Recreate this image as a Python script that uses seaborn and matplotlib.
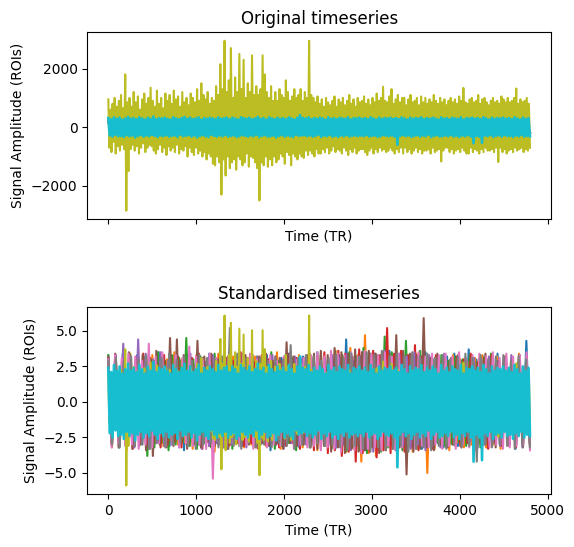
import numpy as np
import pandas as pd
import matplotlib
matplotlib.use("Agg")
import matplotlib.pyplot as plt
import seaborn as sns

N_TR = 4800

# ROI names in drawing order (tab10 colours)
roi_names = ["ROI 1", "ROI 2", "ROI 3", "ROI 4", "ROI 5",
             "ROI 6", "ROI 7", "ROI 8", "ROI 9", "ROI 10"]

# standard deviation of each ROI in original units (ratio of the two panels)
roi_sd = [60, 60, 60, 60, 60, 60, 60, 60, 485, 130]

# ROI 9 (olive) in original units, peak / trough pairs
olive_raw = [
    950, -700, 600, -850, 800, -500, 1000, -900, 700, -650, 900, -800, 1100, -600, 650, -750, 1800, -2850, 850, -1500,
    1000, -750, 700, -600, 1200, -800, 850, -650, 1050, -900, 600, -700, 950, -550, 1150, -850, 800, -700, 1000, -600,
    1350, -650, 900, -800, 700, -900, 1250, -750, 800, -600, 1000, -850, 650, -700, 1150, -950, 900, -650, 1100, -800,
    800, -700, 1250, -850, 950, -600, 1050, -900, 700, -750, 1200, -800, 850, -650, 1000, -1000, 750, -700, 1150, -850,
    1000, -950, 850, -700, 1300, -900, 900, -800, 1500, -1000, 1100, -850, 950, -1100, 1200, -900, 800, -1000, 1000, -1250,
    900, -1300, 1400, -1000, 1100, -1200, 2150, -2300, 1300, -1100, 2950, -1650, 1200, -1000, 1600, -1400, 2700, -1200, 1000, -1100,
    1700, -1450, 1200, -1000, 2500, -1100, 1300, -1300, 2300, -1200, 1000, -900, 1500, -1350, 1200, -1000, 2450, -1050, 1100, -1200,
    1400, -1400, 1100, -2500, 1300, -1200, 2450, -1300, 1800, -1000, 1200, -1350, 1000, -1100, 1400, -1300, 900, -1000, 1200, -1200,
    900, -1100, 1300, -900, 1100, -1000, 1000, -1250, 1600, -850, 1200, -950, 900, -1300, 1050, -900, 1300, -1000, 1000, -1100,
    1100, -900, 1300, -1000, 900, -1050, 1200, -800, 1000, -950, 2950, -800, 1100, -900, 1000, -1000, 850, -750, 1050, -900,
    800, -900, 950, -750, 700, -850, 1000, -700, 850, -900, 750, -800, 900, -650, 1050, -850, 700, -750, 950, -800,
    850, -900, 1000, -700, 750, -800, 900, -950, 1100, -750, 800, -850, 950, -700, 700, -900, 1000, -800, 850, -750,
    900, -750, 1050, -850, 800, -950, 950, -800, 750, -700, 1000, -900, 850, -750, 1150, -850, 900, -700, 1000, -800,
    1380, -750, 900, -850, 850, -800, 1050, -700, 1300, -800, 800, -900, 950, -750, 1100, -850, 850, -700, 1000, -900,
    1000, -700, 750, -850, 950, -750, 1100, -900, 850, -800, 900, -700, 1000, -850, 750, -750, 1050, -900, 850, -800,
    1000, -800, 800, -750, 950, -900, 850, -700, 1100, -850, 900, -800, 800, -750, 1000, -1170, 850, -800, 950, -700,
    750, -700, 900, -850, 1000, -750, 850, -900, 950, -800, 800, -750, 1050, -850, 900, -700, 1340, -800, 850, -900,
    800, -900, 950, -700, 1000, -850, 850, -750, 900, -800, 1100, -900, 800, -750, 950, -850, 1000, -700, 850, -800,
    750, -800, 900, -750, 1000, -850, 850, -700, 900, -1190, 800, -700, 1050, -850, 950, -750, 850, -900, 1000, -800,
    850, -750, 900, -850, 1000, -700, 1320, -800, 800, -750, 950, -700, 850, -850, 900, -750, 1000, -800, 800, -700,
]

# ROI 10 (cyan), standardised values
cyan_z = [
    2.4, -2.2, 2.1, -2.5, 2.6, -2.0, 2.2, -2.4, 2.5, -2.3, 2.0, -2.6, 2.3, -2.1, 2.7, -2.4, 2.2, -2.2, 2.4, -2.7,
    2.1, -2.3, 2.6, -2.1, 2.3, -2.5, 2.0, -2.2, 2.5, -2.4, 2.2, -2.0, 2.8, -2.3, 2.1, -2.6, 2.4, -2.2, 2.3, -2.4,
    2.5, -2.1, 2.2, -2.5, 2.0, -2.3, 2.6, -2.2, 2.3, -2.6, 2.1, -2.0, 2.4, -2.4, 2.7, -2.3, 2.2, -2.1, 2.5, -2.5,
    2.1, -2.2, 2.3, -2.7, 2.6, -2.3, 2.0, -2.1, 2.4, -2.4, 2.2, -2.6, 2.5, -2.0, 2.3, -2.3, 2.1, -2.5, 2.6, -2.2,
    2.2, -2.4, 2.4, -2.1, 2.5, -2.5, 2.1, -2.3, 2.5, -2.2, 2.3, -2.6, 2.0, -2.4, 2.6, -2.1, 2.4, -2.3, 2.2, -2.5,
    2.5, -2.2, 2.1, -2.4, 2.3, -2.0, 2.7, -2.6, 2.2, -2.3, 2.4, -2.1, 2.0, -2.5, 2.6, -2.4, 2.3, -2.2, 2.1, -2.7,
    2.5, -2.3, 2.2, -2.1, 2.4, -2.5, 2.1, -2.2, 2.6, -2.4, 2.3, -2.6, 2.0, -2.0, 2.5, -2.3, 3.2, -2.2, 2.4, -2.1,
    2.3, -2.4, 2.6, -2.2, 2.1, -2.5, 2.4, -2.3, 2.2, -2.0, 2.5, -2.6, 2.3, -2.2, 2.0, -2.4, 2.6, -2.1, 2.2, -2.5,
    2.4, -2.3, 2.1, -2.6, 2.5, -2.2, 2.3, -2.4, 2.2, -2.1, 2.6, -2.5, 2.0, -2.3, 2.4, -2.2, 2.3, -2.4, 2.5, -2.2,
    2.2, -2.4, 2.4, -2.1, 2.1, -2.5, 2.6, -2.3, 2.3, -2.2, 2.0, -2.6, 2.5, -2.4, 2.2, -2.1, 2.4, -2.3, 2.3, -2.4,
    2.5, -2.2, 2.2, -2.5, 2.4, -4.6, 2.1, -2.3, 2.6, -2.1, 2.3, -2.4, 2.0, -2.2, 2.5, -2.6, 2.2, -2.3, 2.4, -2.1,
    2.3, -2.5, 2.6, -2.2, 2.1, -2.4, 2.4, -2.0, 2.2, -2.6, 2.5, -2.3, 2.3, -2.1, 2.0, -2.5, 2.6, -2.4, 2.2, -2.2,
    2.4, -2.4, 2.1, -2.1, 2.5, -2.5, 2.3, -2.3, 2.2, -2.6, 2.6, -2.2, 2.0, -2.4, 2.4, -2.1, 2.3, -2.5, 2.5, -4.2,
    2.2, -2.3, 2.4, -2.5, 2.1, -4.1, 2.6, -2.2, 2.3, -2.4, 2.0, -2.1, 2.5, -2.6, 2.2, -2.3, 2.4, -2.2, 2.3, -2.5,
    2.5, -2.1, 2.2, -2.4, 2.4, -2.3, 2.1, -2.6, 2.6, -2.2, 2.3, -2.4, 2.0, -2.1, 2.5, -2.5, 2.2, -2.3, 2.4, -2.4,
]

# ROIs 1-8, standardised values (peaks beyond the cyan band)
blue_z = [
    3.1, -2.8, 2.6, -3.2, 3.4, -2.7, 2.9, -3.0, 3.3, -2.6, 2.7, -3.3, 3.0, -2.9, 3.5, -2.8, 2.8, -3.1, 3.2, -2.7,
    2.9, -3.4, 3.3, -2.8, 2.6, -3.0, 3.1, -2.7, 3.4, -3.2, 2.8, -2.9, 3.0, -3.3, 3.6, -2.6, 2.7, -3.0, 3.2, -2.8,
    3.0, -3.1, 2.8, -2.7, 3.3, -3.4, 2.7, -2.9, 3.1, -3.0, 3.4, -2.8, 2.9, -3.2, 3.2, -2.6, 2.6, -3.1, 3.5, -2.9,
    2.8, -3.0, 3.1, -3.3, 3.3, -2.7, 4.4, -3.1, 2.9, -2.9, 3.2, -3.4, 2.7, -3.0, 3.4, -2.8, 3.0, -3.2, 3.6, -3.0,
    3.1, -2.9, 2.9, -3.1, 3.3, -2.7, 2.8, -3.3, 3.5, -3.0, 3.0, -2.8, 2.7, -3.2, 3.2, -2.9, 3.4, -3.1, 2.9, -2.7,
    3.7, -3.0, 3.0, -2.8, 3.2, -3.2, 2.8, -2.9, 3.4, -3.1, 3.1, -2.7, 2.9, -3.3, 3.3, -3.0, 4.3, -2.8,
]
orange_z = [
    2.8, -3.2, 3.2, -2.7, 2.9, -3.4, 3.4, -3.0, 2.7, -2.8, 3.1, -3.3, 3.3, -2.9, 2.6, -3.1, 3.0, -2.7, 3.5, -3.0,
    3.0, -2.9, 2.7, -3.3, 3.3, -3.0, 3.1, -2.8, 2.9, -3.5, 3.4, -2.9, 2.8, -3.1, 3.2, -2.7, 3.0, -3.2, 2.7, -3.0,
    3.2, -2.8, 3.0, -3.1, 2.8, -2.9, 3.5, -3.3, 3.1, -2.7, 2.9, -3.0, 3.3, -3.2, 2.7, -2.9, 3.1, -3.4, 3.4, -3.1,
    3.0, -3.2, 3.6, -3.0, 3.2, -3.5, 3.8, -3.3, 3.3, -4.2, 4.7, -3.6, 3.4, -3.8, 3.2, -3.4, 3.5, -3.1, 3.0, -3.6,
    3.3, -3.2, 3.1, -3.5, 3.4, -3.0, 3.6, -5.0, 3.0, -3.3, 3.2, -3.1, 2.9, -3.4, 3.3, -2.9, 3.0, -3.2, 2.8, -3.0,
    3.1, -2.9, 3.3, -3.2, 2.7, -3.0, 3.2, -3.3, 3.0, -2.8, 2.9, -3.1, 3.4, -3.0, 3.1, -2.9,
]
green_z = [
    3.3, -2.9, 2.9, -3.2, 3.1, -2.8, 3.4, -3.1, 2.8, -3.0, 3.2, -3.8, 3.0, -3.2, 3.5, -2.9, 2.9, -3.4, 3.3, -3.0,
    3.1, -2.8, 4.5, -3.1, 3.0, -3.3, 3.2, -2.9, 2.8, -3.2, 3.4, -3.0, 3.0, -2.8, 2.9, -3.3, 3.3, -3.1, 3.1, -2.9,
    2.8, -3.2, 3.2, -3.0, 3.0, -2.8, 3.5, -3.3, 2.9, -3.1, 3.3, -2.9, 3.1, -3.4, 2.8, -3.0, 3.2, -3.2, 3.0, -2.8,
    3.4, -3.1, 3.1, -3.3, 3.6, -3.0, 3.3, -3.5, 3.5, -3.2, 3.2, -3.4, 3.8, -3.6, 3.4, -3.1, 3.3, -3.5, 4.6, -3.2,
    3.5, -3.0, 3.3, -3.4, 4.3, -3.1, 3.2, -3.3, 3.6, -3.0, 3.1, -3.2, 3.0, -2.9, 3.3, -3.1, 2.9, -3.0, 3.2, -2.8,
    3.0, -3.1, 3.3, -2.9, 2.8, -3.2, 3.1, -3.0, 3.4, -2.8, 2.9, -3.1, 3.2, -3.0, 3.0, -2.9, 3.3, -3.2, 3.1, -3.0,
]
red_z = [
    3.0, -3.1, 3.3, -2.8, 2.8, -3.0, 3.2, -3.3, 2.9, -2.9, 3.4, -3.1, 3.1, -2.7, 2.7, -3.2, 3.3, -3.0, 3.0, -2.8,
    3.2, -3.2, 2.9, -3.0, 3.1, -2.9, 3.4, -3.3, 2.8, -3.1, 3.0, -2.8, 3.3, -3.2, 3.1, -3.0, 2.9, -2.9, 3.5, -3.1,
    3.1, -2.9, 2.8, -3.3, 3.3, -3.0, 3.0, -2.8, 3.2, -3.2, 2.9, -3.1, 3.4, -2.9, 3.1, -3.3, 3.0, -3.0, 3.3, -3.4,
    3.2, -3.3, 3.5, -3.6, 3.3, -3.4, 3.6, -3.8, 3.4, -3.5, 3.2, -4.2, 3.7, -3.6, 3.4, -3.5, 3.6, -3.9, 3.3, -3.4,
    5.2, -3.6, 3.4, -3.3, 3.6, -3.5, 3.3, -3.2, 4.0, -3.4, 3.2, -3.1, 3.0, -3.3, 3.3, -2.9, 3.1, -3.2, 2.9, -3.0,
    3.2, -3.1, 3.0, -2.9, 3.4, -3.2, 2.8, -3.0, 3.1, -3.3, 3.3, -2.8, 2.9, -3.1, 3.2, -3.0, 3.0, -3.2, 3.1, -2.9,
    3.2, -3.0,
]
purple_z = [
    3.1, -2.9, 3.3, -3.1, 4.1, -2.8, 3.2, -3.2, 4.4, -3.0, 3.4, -3.3, 3.0, -2.9, 3.5, -3.1, 2.9, -3.0, 3.3, -3.2,
    3.0, -3.0, 3.4, -2.8, 3.1, -3.3, 2.8, -3.1, 3.3, -2.9, 3.0, -3.2, 3.2, -3.0, 2.9, -2.8, 3.4, -3.2, 3.1, -3.0,
    3.2, -2.9, 2.9, -3.1, 3.3, -3.0, 3.0, -3.3, 2.8, -2.9, 3.2, -3.1, 3.1, -3.0, 3.4, -2.8, 2.9, -3.2, 3.0, -3.0,
    3.3, -3.2, 3.1, -3.0, 3.4, -3.4, 3.2, -3.1, 3.5, -3.3, 3.3, -3.5, 3.2, -3.2, 3.6, -3.0, 3.1, -3.4, 3.4, -3.1,
    3.2, -3.3, 3.5, -3.0, 3.0, -3.4, 3.3, -3.1, 3.1, -3.2, 3.4, -2.9, 3.0, -3.1, 3.2, -3.0, 2.9, -2.8, 3.1, -3.2,
    3.0, -3.0, 3.2, -2.9, 2.9, -3.1, 3.1, -3.0, 3.3, -2.8, 2.8, -3.2, 3.2, -3.0,
]
brown_z = [
    3.2, -3.0, 3.4, -3.2, 3.0, -2.9, 3.5, -3.3, 3.1, -3.1, 3.3, -3.4, 3.0, -3.8, 3.6, -3.0, 3.2, -3.2, 4.5, -3.1,
    4.4, -2.9, 3.3, -3.3, 3.1, -3.0, 4.3, -3.2, 3.2, -2.8, 3.4, -3.1, 3.0, -3.0, 3.3, -3.3, 2.9, -2.9, 3.1, -3.1,
    3.3, -3.0, 3.0, -3.2, 3.2, -2.9, 3.4, -3.1, 2.9, -3.0, 3.1, -3.3, 4.2, -2.9, 3.2, -3.1, 3.0, -3.0, 3.3, -3.2,
    3.4, -3.3, 3.6, -3.1, 3.3, -3.5, 3.8, -3.2, 3.5, -3.6, 3.4, -3.3, 3.7, -3.5, 3.5, -3.4, 3.6, -3.2, 3.4, -3.6,
    3.5, -3.4, 3.4, -3.3, 4.7, -3.2, 3.6, -5.1, 3.4, -3.5, 3.3, -3.3, 5.9, -3.2, 3.1, -3.4, 3.4, -3.0, 3.0, -3.2,
    3.1, -3.0, 3.3, -3.2, 2.9, -2.9, 3.2, -3.1, 3.0, -3.0, 3.4, -2.8, 3.1, -3.2, 2.9, -3.0, 3.2, -3.1, 3.0, -2.9,
    3.3, -3.1, 3.0, -3.0,
]
pink_z = [
    3.0, -3.2, 3.3, -2.9, 3.1, -3.1, 3.4, -3.0, 3.2, -3.3, 2.9, -3.0, 4.1, -3.2, 3.2, -2.9, 3.5, -3.1, 3.0, -3.0,
    3.3, -3.2, 3.1, -2.9, 3.9, -3.1, 3.2, -3.0, 3.0, -3.3, 3.4, -5.4, 3.1, -3.0, 2.9, -3.2, 3.3, -2.9, 3.0, -3.1,
    3.2, -3.0, 3.4, -3.3, 3.0, -2.9, 3.1, -3.2, 3.3, -3.0, 2.9, -3.1, 3.2, -2.8, 3.5, -3.3, 3.0, -3.0, 3.1, -3.2,
    3.3, -3.1, 3.5, -3.4, 3.2, -3.2, 3.6, -3.3, 3.4, -3.5, 3.3, -3.2, 3.5, -3.4, 3.2, -3.6, 3.6, -3.3, 3.4, -3.2,
    3.3, -3.4, 3.5, -3.1, 3.2, -3.3, 3.4, -3.2, 3.1, -3.0, 3.3, -3.3, 3.5, -3.1, 3.2, -3.2, 3.4, -3.0, 3.3, -3.3,
    3.4, -3.1, 3.2, -3.3, 3.5, -3.0, 3.1, -3.2, 3.3, -3.4, 3.4, -3.1, 3.2, -3.2, 3.5, -3.0, 3.1, -3.3, 3.4, -3.2,
    3.2, -3.1, 3.3, -3.0, 3.5, -3.4,
]
gray_z = [
    2.9, -3.0, 3.1, -3.2, 2.8, -2.9, 3.2, -3.1, 3.0, -3.0, 3.3, -3.3, 2.9, -2.8, 3.1, -3.2, 3.4, -3.0, 3.0, -2.9,
    3.2, -3.1, 2.9, -3.3, 3.3, -3.0, 3.1, -2.9, 3.0, -3.2, 3.2, -3.0, 5.2, -3.1, 3.4, -3.3, 3.0, -2.9, 3.3, -3.2,
    3.1, -3.0, 2.9, -3.2, 3.2, -2.9, 3.0, -3.1, 4.0, -3.3, 3.1, -3.0, 3.3, -3.2, 3.2, -2.9, 2.9, -3.1, 3.1, -3.0,
    3.3, -3.2, 3.1, -3.4, 3.4, -3.1, 3.2, -3.3, 3.5, -3.5, 3.3, -3.2, 3.6, -3.4, 3.2, -3.3, 3.4, -3.1, 3.3, -3.5,
    3.5, -3.3, 3.2, -3.2, 3.4, -3.4, 3.1, -3.1, 3.3, -3.3, 3.0, -3.0, 3.2, -3.2, 3.4, -3.1, 3.1, -4.2, 3.3, -3.0,
    3.0, -3.2, 3.2, -3.0, 3.3, -3.1, 2.9, -3.3, 3.2, -3.0, 3.0, -3.2,
]

tick_top = [-2000, 0, 2000]
tick_bottom = [-5.0, -2.5, 0.0, 2.5, 5.0]
tick_x = [0, 1000, 2000, 3000, 4000, 5000]

# build the original and standardised series for each ROI
z_lists = [blue_z, orange_z, green_z, red_z, purple_z, brown_z, pink_z, gray_z, None, cyan_z]
frames = []
for i, name in enumerate(roi_names):
    if z_lists[i] is None:
        raw = np.array(olive_raw, dtype=float)
        z = raw / roi_sd[i]
    else:
        z = np.array(z_lists[i], dtype=float)
        raw = z * roi_sd[i]
    tr = np.linspace(0, N_TR - 1, len(z))
    frames.append(pd.DataFrame({"TR": tr, "original": raw, "standardised": z, "roi": name}))
df = pd.concat(frames, ignore_index=True)

palette = sns.color_palette("tab10", len(roi_names))

fig, axes = plt.subplots(2, 1, figsize=(5.74, 5.47), dpi=100, sharex=True)
fig.subplots_adjust(left=0.152, right=0.96, top=0.941, bottom=0.097, hspace=0.47)

for ax, col, title in zip(axes, ["original", "standardised"],
                          ["Original timeseries", "Standardised timeseries"]):
    for i, name in enumerate(roi_names):
        sub = df[df["roi"] == name]
        sns.lineplot(data=sub, x="TR", y=col, color=palette[i], ax=ax,
                     linewidth=1.9 if i == 9 else 1.5, estimator=None, sort=False)
    ax.set_title(title)
    ax.set_xlabel("Time (TR)")
    ax.set_ylabel("Signal Amplitude (ROIs)")

axes[0].set_yticks(tick_top)
axes[1].set_yticks(tick_bottom)
axes[1].set_xticks(tick_x)
axes[0].tick_params(labelbottom=False)
axes[0].xaxis.label.set_visible(True)

fig.savefig("out.png", dpi=100)
